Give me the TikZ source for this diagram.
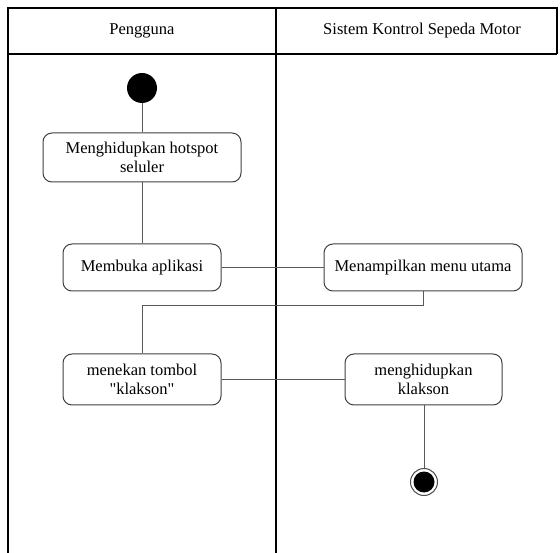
\documentclass[tikz,border=0pt]{standalone}
\usepackage{fontspec}
% plain family: keeps straight quotes as typed
\newfontfamily\labelfont{Liberation Serif}
\begin{document}
\begin{tikzpicture}[x=1pt,y=-1pt,
  every node/.style={font=\labelfont\fontsize{16.5}{19}\selectfont},
  frame/.style={draw=black,line width=1.4pt},
  action/.style={draw=black!75,line width=1pt,rounded corners=9pt,fill=white,
    align=center,inner sep=0pt},
  flow/.style={draw=black!65,line width=1pt}]
\useasboundingbox (0,0) rectangle (560,553);

% swimlane frame
\draw[frame] (8,553) -- (8,8) -- (557,8) -- (557,54);
\draw[frame] (8,54) -- (557,54);
\draw[frame] (276,8) -- (276,553);
\node (laneA) at (142,31) {Pengguna};
\node (laneB) at (422,31) {Sistem Kontrol Sepeda Motor};

% activity nodes
\node[circle,fill=black,inner sep=0pt,minimum size=30pt] (start) at (142,88) {};
\node[action,minimum width=198pt,minimum height=49pt] (a1) at (142,157.5)
  {Menghidupkan hotspot\\seluler};
\node[action,minimum width=158pt,minimum height=47pt] (a2) at (142,267.5)
  {Membuka aplikasi};
\node[action,minimum width=198pt,minimum height=47pt] (b1) at (423,267.5)
  {Menampilkan menu utama};
\node[action,minimum width=158pt,minimum height=51pt] (a3) at (142,379.5)
  {menekan tombol\\"klakson"};
\node[action,minimum width=157pt,minimum height=51pt] (b2) at (423.5,379.5)
  {menghidupkan\\klakson};
\node[circle,draw=black!70,line width=1pt,fill=white,inner sep=0pt,minimum size=27pt] (end) at (424,482) {};
\fill[black] (end.center) circle (10.5pt);

% control flow
\coordinate (turnR) at (b1.south |- 0,306);
\coordinate (turnL) at (a3.north |- 0,306);
\draw[flow] (start) -- (a1);
\draw[flow] (a1) -- (a2);
\draw[flow] (a2) -- (b1);
\draw[flow] (b1.south) -- (turnR) -- (turnL) -- (a3.north);
\draw[flow] (a3) -- (b2);
\draw[flow] (b2.south -| end) -- (end);
\end{tikzpicture}
\end{document}
